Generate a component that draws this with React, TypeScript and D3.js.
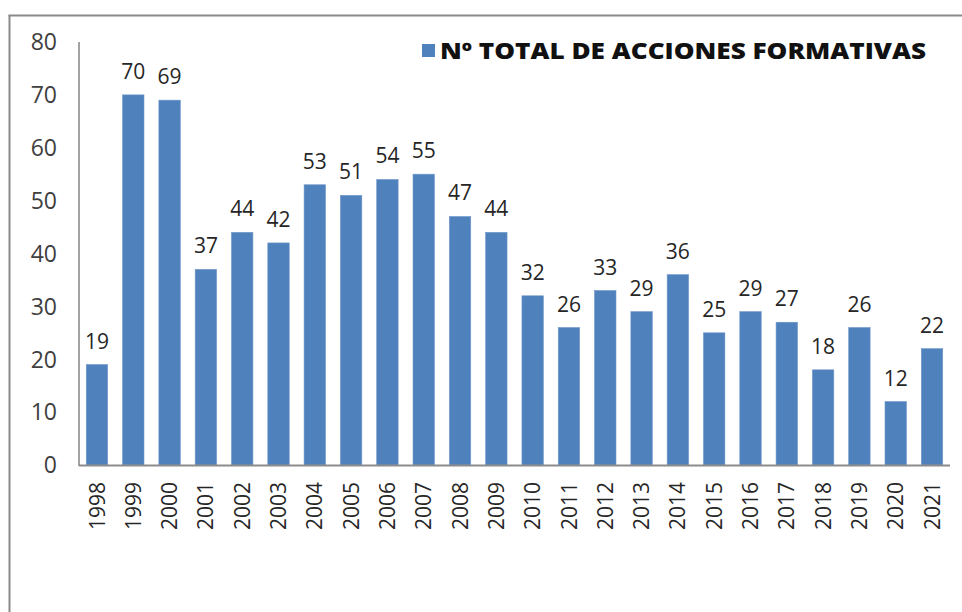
import React from "react";
import * as d3 from "d3";

const years = ["1998","1999","2000","2001","2002","2003","2004","2005","2006","2007","2008","2009","2010","2011","2012","2013","2014","2015","2016","2017","2018","2019","2020","2021"];
const values = [19,70,69,37,44,42,53,51,54,55,47,44,32,26,33,29,36,25,29,27,18,26,12,22];
const yTicks = [0,10,20,30,40,50,60,70,80];
const seriesName = "Nº TOTAL DE ACCIONES FORMATIVAS";

export default function App() {
  const W = 962, H = 612;
  const left = 79, right = 950, top = 42, bottom = 465;
  const x = d3.scaleBand<string>().domain(years).range([left, right]).paddingInner(0.41).paddingOuter(0.2);
  const y = d3.scaleLinear().domain([0, 80]).range([bottom, top]);
  const blue = "#4F81BD";
  const axisColor = "#8c8c8c";
  return (
    <svg width={W} height={H} style={{ position: "absolute", left: 0, top: 0, background: "#fff" }}>
      <rect x={0} y={0} width={W} height={H} fill="#fff" />
      {/* frame */}
      <line x1={9.5} y1={15} x2={9.5} y2={H} stroke="#8a8a8a" strokeWidth={2} />
      <line x1={8.5} y1={15.5} x2={W} y2={15.5} stroke="#8a8a8a" strokeWidth={2} />
      {/* bars */}
      {years.map((yr, i) => (
        <rect key={yr} x={x(yr)} y={y(values[i])} width={x.bandwidth()} height={bottom - y(values[i])} fill={blue} stroke="#6f97c8" strokeWidth={0.6} />
      ))}
      {/* value labels */}
      {years.map((yr, i) => (
        <text key={"v" + yr} x={(x(yr) as number) + x.bandwidth() / 2} y={y(values[i]) - 16} textAnchor="middle"
          fontFamily="'Open Sans', sans-serif" fontSize={21} fill="#262626">{values[i]}</text>
      ))}
      {/* axes */}
      <line x1={left} y1={top} x2={left} y2={bottom + 1} stroke={axisColor} strokeWidth={1.6} />
      <line x1={left} y1={bottom + 0.5} x2={right} y2={bottom + 0.5} stroke={axisColor} strokeWidth={1.8} />
      {yTicks.map(t => (
        <text key={"t" + t} x={57} y={y(t)} dy="0.36em" textAnchor="end" fontFamily="'Open Sans', sans-serif" fontSize={23} fill="#404040">{t}</text>
      ))}
      {years.map(yr => {
        const cx = (x(yr) as number) + x.bandwidth() / 2;
        return (
          <text key={"x" + yr} transform={`translate(${cx},${482}) rotate(-90)`} dy="0.36em" textAnchor="end"
            fontFamily="'Open Sans', sans-serif" fontSize={21} fill="#262626">{yr}</text>
        );
      })}
      {/* legend */}
      <rect x={422} y={44} width={13} height={13} fill={blue} />
      <text x={440} y={59} fontFamily="'Open Sans', sans-serif" fontWeight={800} fontSize={23} fill="#111"
        textLength={486} lengthAdjust="spacingAndGlyphs">{seriesName}</text>
    </svg>
  );
}
